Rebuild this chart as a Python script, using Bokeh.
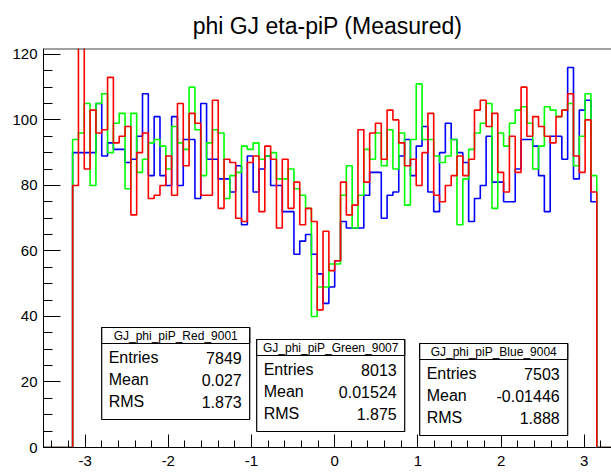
import numpy as np
from bokeh.plotting import figure
from bokeh.models import Range1d, Span, BoxAnnotation, Label, FixedTicker
from bokeh.embed import file_html
from bokeh.resources import INLINE

TITLE = "phi GJ eta-piP (Measured)"
X_MIN, X_MAX, N_BINS = -3.5, 3.5, 100
FIRST_BIN = 5  # bins below -3.15 and above 3.15 are empty

red = [80, 128, 85, 103, 96, 97, 113, 93, 95, 98, 71, 90, 96, 76, 77, 80, 89, 77, 105, 86,
       102, 99, 77, 77, 106, 73, 88, 87, 70, 69, 87, 89, 72, 92, 88, 67, 88, 73, 81, 68,
       73, 69, 42, 66, 54, 57, 81, 71, 74, 97, 81, 96, 99, 88, 103, 100, 93, 86, 88, 80,
       90, 102, 77, 75, 80, 83, 89, 83, 88, 103, 106, 98, 102, 84, 78, 95, 84, 110, 95, 101,
       98, 95, 93, 101, 103, 108, 89, 84, 100, 78]
green = [94, 96, 105, 80, 105, 108, 90, 99, 102, 79, 102, 84, 88, 93, 94, 92, 85, 98, 93, 91,
         110, 97, 83, 93, 97, 96, 76, 83, 84, 92, 91, 93, 88, 89, 90, 82, 82, 85, 79, 77,
         73, 40, 49, 49, 56, 56, 77, 86, 67, 77, 91, 88, 96, 86, 97, 85, 96, 74, 94, 111,
         94, 94, 89, 87, 89, 94, 68, 82, 91, 96, 99, 105, 73, 96, 92, 99, 103, 104, 99, 85,
         92, 104, 103, 101, 103, 105, 86, 95, 108, 83]
blue = [90, 90, 90, 90, 105, 89, 93, 91, 91, 87, 88, 95, 108, 83, 101, 83, 80, 101, 80, 94,
        94, 76, 105, 88, 88, 82, 82, 78, 86, 68, 89, 78, 85, 89, 80, 80, 72, 72, 59, 63,
        65, 59, 53, 44, 49, 57, 69, 67, 67, 67, 77, 84, 84, 70, 77, 78, 89, 94, 83, 92,
        98, 78, 72, 90, 99, 94, 90, 87, 69, 76, 80, 95, 81, 81, 75, 75, 85, 94, 94, 92,
        83, 72, 95, 95, 88, 116, 82, 103, 106, 75]

stat_names = ["GJ_phi_piP_Red_9001", "GJ_phi_piP_Green_9007", "GJ_phi_piP_Blue_9004"]
stat_entries = ["7849", "8013", "7503"]
stat_means = ["0.027", "0.01524", "-0.01446"]
stat_rms = ["1.873", "1.875", "1.888"]
row_names = ["Entries", "Mean", "RMS"]

x_ticks = [-3, -2, -1, 0, 1, 2, 3]
y_ticks = [0, 20, 40, 60, 80, 100, 120]

FONT = "Liberation Sans"
Y_TOP = 121.8
X_END = 3.327

p = figure(width=611, height=475, output_backend="svg", toolbar_location=None,
           x_range=Range1d(X_MIN, X_END), y_range=Range1d(0, Y_TOP),
           min_border_left=43, min_border_right=0, min_border_top=48, min_border_bottom=28,
           title=TITLE)
p.title.align = "center"
p.title.standoff = 19
p.title.offset = 3
p.title.text_font = FONT
p.title.text_font_size = "23px"
p.title.text_font_style = "normal"
p.title.text_color = "black"
p.xgrid.visible = False
p.ygrid.visible = False
p.outline_line_color = None
p.background_fill_color = "white"
p.border_fill_color = "white"

p.xaxis.ticker = FixedTicker(ticks=x_ticks, minor_ticks=list(np.round(np.arange(-3.4, 3.41, 0.2), 2)))
p.yaxis.ticker = FixedTicker(ticks=y_ticks, minor_ticks=list(range(0, 125, 5)))
p.xaxis.major_label_overrides = {t: str(t) for t in x_ticks}
for ax in (p.xaxis[0], p.yaxis[0]):
    ax.axis_line_color = "black"
    ax.major_tick_line_color = "black"
    ax.minor_tick_line_color = "black"
    ax.major_tick_out = 0
    ax.minor_tick_out = 0
    ax.major_label_text_font = FONT
    ax.major_label_text_font_size = "15px"
    ax.major_label_text_color = "black"
p.xaxis.major_tick_in = 13
p.xaxis.minor_tick_in = 7
p.yaxis.major_tick_in = 17
p.yaxis.minor_tick_in = 9
p.xaxis.major_label_standoff = 8
p.yaxis.major_label_standoff = 6

p.add_layout(Span(location=Y_TOP, dimension="width", line_color="#444444", line_width=2))

edges = np.linspace(X_MIN, X_MAX, N_BINS + 1)

def full_hist(vals):
    c = np.zeros(N_BINS)
    c[FIRST_BIN:FIRST_BIN + len(vals)] = vals
    return c

for vals, col in ((blue, "#0000ff"), (green, "#00ff00"), (red, "#ff0000")):
    c = full_hist(vals)
    xs = np.repeat(edges, 2)[1:-1]
    ys = np.repeat(c, 2)
    xs = np.concatenate([[edges[0]], xs, [edges[-1]]])
    ys = np.concatenate([[0], ys, [0]])
    p.line(xs, ys, line_color=col, line_width=1.6)

# stat-box positions given in page pixels, converted with the axis scales
PX0, SX = 334.0, 83.2
PY0, SY = 447.0, 399.0 / Y_TOP

def dx(px):
    return (px - PX0) / SX

def dy(py):
    return (PY0 - py) / SY

box_left = [101, 256, 419]
box_top = [327, 339, 343]
BOX_W, BOX_H, HEAD_H = 148, 92, 16
row_off = [30, 52, 74]

for i in range(3):
    L, T = box_left[i], box_top[i]
    R, B = L + BOX_W, T + BOX_H
    p.add_layout(BoxAnnotation(left=dx(L), right=dx(R), top=dy(T), bottom=dy(B),
                               fill_color="white", fill_alpha=1.0,
                               line_color="black", line_width=1.2, line_alpha=1.0))
    p.add_layout(BoxAnnotation(left=dx(L), right=dx(R), top=dy(T), bottom=dy(T + HEAD_H),
                               fill_color="white", fill_alpha=1.0,
                               line_color="black", line_width=1.2, line_alpha=1.0))
    p.add_layout(Label(x=dx((L + R) / 2), y=dy(T + HEAD_H / 2 + 0.5), text=stat_names[i],
                       text_font=FONT, text_font_size="12px", text_align="center",
                       text_baseline="middle", text_color="black"))
    vals = [stat_entries[i], stat_means[i], stat_rms[i]]
    for j in range(3):
        yy = dy(T + row_off[j])
        p.add_layout(Label(x=dx(L + 7), y=yy, text=row_names[j], text_font=FONT,
                           text_font_size="16px", text_align="left", text_baseline="middle",
                           text_color="black"))
        p.add_layout(Label(x=dx(R - 8), y=yy, text=vals[j], text_font=FONT,
                           text_font_size="16px", text_align="right", text_baseline="middle",
                           text_color="black"))

open("out.html", "w").write(file_html(p, INLINE))
